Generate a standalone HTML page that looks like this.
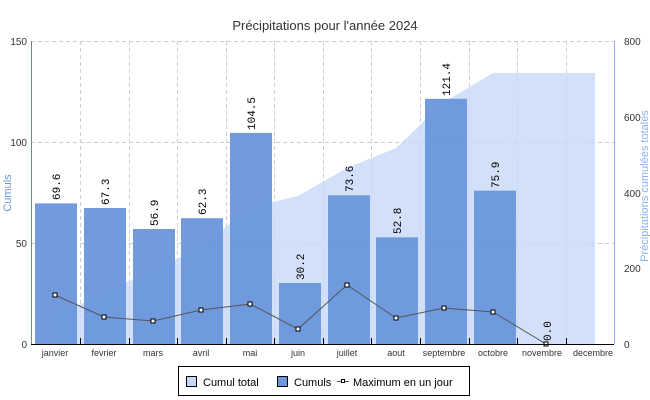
<!DOCTYPE html><html><head><style>body{margin:0;background:#fff}svg{display:block;font-family:"Liberation Sans",sans-serif}</style></head><body>
<svg width="650" height="400" viewBox="0 0 650 400">
<text x="325" y="30" text-anchor="middle" font-size="13" fill="#333">Précipitations pour l'année 2024</text>
<g stroke="#ccc" stroke-dasharray="4,3" stroke-width="1">
<line x1="31" y1="41.5" x2="614" y2="41.5"/><line x1="31" y1="142.5" x2="614" y2="142.5"/><line x1="31" y1="243.5" x2="614" y2="243.5"/>
<line x1="80.5" y1="41" x2="80.5" y2="344"/><line x1="129.5" y1="41" x2="129.5" y2="344"/><line x1="177.5" y1="41" x2="177.5" y2="344"/><line x1="226.5" y1="41" x2="226.5" y2="344"/><line x1="274.5" y1="41" x2="274.5" y2="344"/><line x1="323.5" y1="41" x2="323.5" y2="344"/><line x1="371.5" y1="41" x2="371.5" y2="344"/><line x1="420.5" y1="41" x2="420.5" y2="344"/><line x1="469.5" y1="41" x2="469.5" y2="344"/><line x1="517.5" y1="41" x2="517.5" y2="344"/><line x1="566.5" y1="41" x2="566.5" y2="344"/>
</g>
<polygon fill="#c7d8f7" fill-opacity="0.8" points="55,344 55,317.6 104,292 153,270.6 201,247 250,207.4 298,196 347,168 396,148 444,102 493,73 542,73 595,73 595,344"/>
<g fill="#6a96dc" fill-opacity="0.95">
<rect x="35" y="203.4" width="42" height="140.6"/><rect x="84" y="208" width="42" height="136"/><rect x="133" y="229" width="42" height="115"/><rect x="181" y="218.2" width="42" height="125.8"/><rect x="230" y="132.9" width="42" height="211.1"/><rect x="279" y="283" width="42" height="61"/><rect x="328" y="195.3" width="42" height="148.7"/><rect x="376" y="237.3" width="42" height="106.7"/><rect x="425" y="98.8" width="42" height="245.2"/><rect x="474" y="190.7" width="42" height="153.3"/>
</g>
<g font-size="11" fill="#000" font-family="Liberation Mono, monospace">
<text transform="translate(60,200) rotate(-90)">69.6</text><text transform="translate(109,205) rotate(-90)">67.3</text><text transform="translate(158,226) rotate(-90)">56.9</text><text transform="translate(206,215) rotate(-90)">62.3</text><text transform="translate(255,130) rotate(-90)">104.5</text><text transform="translate(304,280) rotate(-90)">30.2</text><text transform="translate(353,192) rotate(-90)">73.6</text><text transform="translate(401,234) rotate(-90)">52.8</text><text transform="translate(450,96) rotate(-90)">121.4</text><text transform="translate(499,188) rotate(-90)">75.9</text><text transform="translate(551,341) rotate(-90)">0.0</text>
</g>
<polyline fill="none" stroke="#555" points="55,295 104,317 153,321 201,310 250,304 298,329 347,285 396,318 444,308 493,312 546,344"/>
<g fill="#fff" stroke="#000"><rect x="53" y="293" width="4" height="4"/><rect x="102" y="315" width="4" height="4"/><rect x="151" y="319" width="4" height="4"/><rect x="199" y="308" width="4" height="4"/><rect x="248" y="302" width="4" height="4"/><rect x="296" y="327" width="4" height="4"/><rect x="345" y="283" width="4" height="4"/><rect x="394" y="316" width="4" height="4"/><rect x="442" y="306" width="4" height="4"/><rect x="491" y="310" width="4" height="4"/><rect x="544" y="342" width="4" height="4"/></g>
<line x1="31.5" y1="41" x2="31.5" y2="344" stroke="#5b87d6"/>
<line x1="614.5" y1="41" x2="614.5" y2="344" stroke="#8ab0ee"/>
<line x1="31" y1="344.5" x2="614" y2="344.5" stroke="#000"/>
<g stroke="#000"><line x1="80.5" y1="338" x2="80.5" y2="344"/><line x1="129.5" y1="338" x2="129.5" y2="344"/><line x1="177.5" y1="338" x2="177.5" y2="344"/><line x1="226.5" y1="338" x2="226.5" y2="344"/><line x1="274.5" y1="338" x2="274.5" y2="344"/><line x1="323.5" y1="338" x2="323.5" y2="344"/><line x1="371.5" y1="338" x2="371.5" y2="344"/><line x1="420.5" y1="338" x2="420.5" y2="344"/><line x1="469.5" y1="338" x2="469.5" y2="344"/><line x1="517.5" y1="338" x2="517.5" y2="344"/><line x1="566.5" y1="338" x2="566.5" y2="344"/></g>
<g font-size="10" fill="#333" text-anchor="end"><text x="27" y="45">150</text><text x="27" y="146">100</text><text x="27" y="247">50</text><text x="27" y="348">0</text></g>
<g font-size="10" fill="#333"><text x="624" y="45">800</text><text x="624" y="121">600</text><text x="624" y="197">400</text><text x="624" y="272">200</text><text x="624" y="348">0</text></g>
<g font-size="9" fill="#333" text-anchor="middle"><text x="55" y="356">janvier</text><text x="104" y="356">fevrier</text><text x="153" y="356">mars</text><text x="201" y="356">avril</text><text x="250" y="356">mai</text><text x="298" y="356">juin</text><text x="347" y="356">juillet</text><text x="396" y="356">aout</text><text x="444" y="356">septembre</text><text x="493" y="356">octobre</text><text x="542" y="356">novembre</text><text x="593" y="356">decembre</text></g>
<text transform="translate(11,193) rotate(-90)" text-anchor="middle" font-size="11" fill="#6a96dc">Cumuls</text>
<text transform="translate(648,186) rotate(-90)" text-anchor="middle" font-size="11" fill="#8ab0ee">Précipitations cumulées totales</text>
<rect x="178.5" y="366.5" width="291" height="29" fill="#fff" stroke="#000"/>
<rect x="186.5" y="376.5" width="10" height="10" fill="#c7d8f7" stroke="#000"/>
<text x="203" y="386" font-size="11">Cumul total</text>
<rect x="277.5" y="376.5" width="10" height="10" fill="#6a96dc" stroke="#000"/>
<text x="294" y="386" font-size="11">Cumuls</text>
<line x1="337" y1="381.5" x2="349" y2="381.5" stroke="#555"/><rect x="341.5" y="379.5" width="3" height="3" fill="#fff" stroke="#000"/>
<text x="353" y="386" font-size="11">Maximum en un jour</text>
</svg></body></html>
